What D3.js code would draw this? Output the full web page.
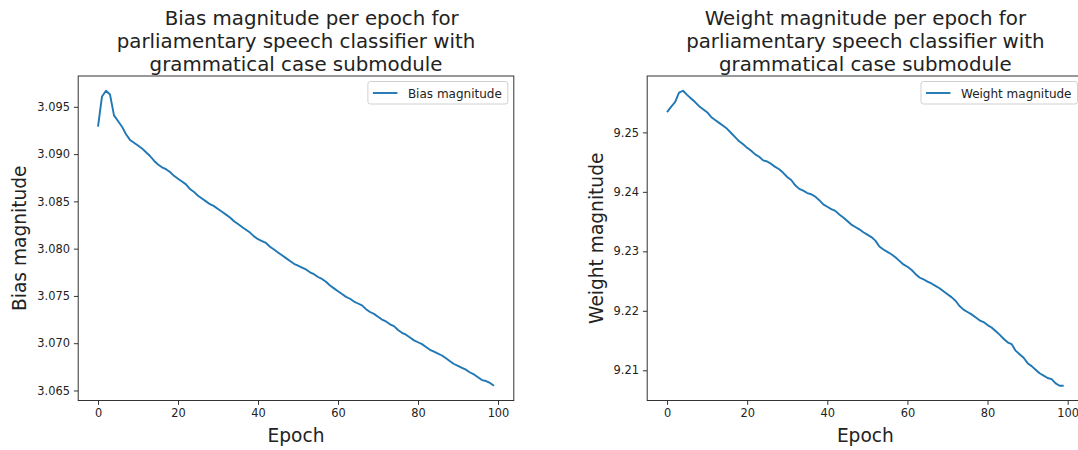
<!DOCTYPE html>
<html>
<head>
<meta charset="utf-8">
<script src="https://cdn.jsdelivr.net/npm/d3@7"></script>
<style>
  html, body { margin: 0; padding: 0; background: #fff; }
  svg { display: block; font-family: "DejaVu Sans", sans-serif; }
  .title tspan { white-space: pre; }
</style>
</head>
<body>
<svg id="chart" width="1078" height="450"></svg>
<script>
// Per-epoch magnitudes of the classifier's bias and weight vectors
const epochs = d3.range(0, 100);

const biasMagnitude = [
  3.0929, 3.0961, 3.0967, 3.0963, 3.0941, 3.0935, 3.0929, 3.0921, 3.0915, 3.0912,
  3.0909, 3.0906, 3.0902, 3.0898, 3.0893, 3.0889, 3.0886, 3.0884, 3.0881, 3.0877,
  3.0874, 3.0871, 3.0868, 3.0863, 3.0860, 3.0856, 3.0853, 3.0850, 3.0847, 3.0845,
  3.0842, 3.0839, 3.0836, 3.0833, 3.0829, 3.0826, 3.0823, 3.0820, 3.0817, 3.0813,
  3.0810, 3.0808, 3.0806, 3.0802, 3.0799, 3.0796, 3.0793, 3.0790, 3.0787, 3.0784,
  3.0782, 3.0780, 3.0778, 3.0775, 3.0773, 3.0770, 3.0768, 3.0765, 3.0761, 3.0758,
  3.0755, 3.0752, 3.0749, 3.0747, 3.0744, 3.0742, 3.0740, 3.0736, 3.0733, 3.0731,
  3.0728, 3.0725, 3.0723, 3.0720, 3.0718, 3.0714, 3.0711, 3.0709, 3.0706, 3.0703,
  3.0701, 3.0699, 3.0696, 3.0693, 3.0691, 3.0689, 3.0687, 3.0684, 3.0681, 3.0678,
  3.0676, 3.0674, 3.0672, 3.0669, 3.0667, 3.0664, 3.0661, 3.0660, 3.0658, 3.0655
];

const weightMagnitude = [
  9.2534, 9.2543, 9.2551, 9.2567, 9.2570, 9.2563, 9.2557, 9.2551, 9.2544, 9.2539,
  9.2534, 9.2526, 9.2521, 9.2516, 9.2511, 9.2506, 9.2499, 9.2492, 9.2485, 9.2480,
  9.2474, 9.2469, 9.2463, 9.2459, 9.2453, 9.2451, 9.2447, 9.2442, 9.2438, 9.2432,
  9.2425, 9.2420, 9.2411, 9.2405, 9.2402, 9.2398, 9.2396, 9.2392, 9.2386, 9.2379,
  9.2375, 9.2371, 9.2368, 9.2362, 9.2357, 9.2351, 9.2345, 9.2341, 9.2337, 9.2332,
  9.2328, 9.2324, 9.2318, 9.2308, 9.2303, 9.2299, 9.2295, 9.2290, 9.2284, 9.2278,
  9.2274, 9.2269, 9.2262, 9.2256, 9.2253, 9.2249, 9.2246, 9.2242, 9.2238, 9.2233,
  9.2228, 9.2223, 9.2217, 9.2208, 9.2202, 9.2198, 9.2194, 9.2189, 9.2184, 9.2181,
  9.2176, 9.2172, 9.2166, 9.2160, 9.2153, 9.2147, 9.2144, 9.2133, 9.2127, 9.2121,
  9.2112, 9.2107, 9.2101, 9.2095, 9.2091, 9.2087, 9.2085, 9.2078, 9.2074, 9.2074
];

const xTicks = [0, 20, 40, 60, 80, 100];
const biasTicks = [3.065, 3.070, 3.075, 3.080, 3.085, 3.090, 3.095];
const weightTicks = [9.21, 9.22, 9.23, 9.24, 9.25];

const panels = [
  {
    title: ["     Bias magnitude per epoch for", "parliamentary speech classifier with", "grammatical case submodule"],
    yLabel: "Bias magnitude",
    legend: "Bias magnitude",
    values: biasMagnitude,
    yTicks: biasTicks,
    yFormat: d3.format(".3f"),
    left: 78.2, right: 513.8, labelX: 26
  },
  {
    title: ["Weight magnitude per epoch for", "parliamentary speech classifier with", "grammatical case submodule"],
    yLabel: "Weight magnitude",
    legend: "Weight magnitude",
    values: weightMagnitude,
    yTicks: weightTicks,
    yFormat: d3.format(".2f"),
    left: 647.2, right: 1083.5, labelX: 603
  }
];

const plotTop = 76, plotBottom = 400.5;
const lineColor = "#1f77b4";
const ink = "#222";
const svg = d3.select("#chart");

// pad a data extent by 5% on each side
function padded(ext) {
  const m = (ext[1] - ext[0]) * 0.05;
  return [ext[0] - m, ext[1] + m];
}

panels.forEach(p => {
  const x = d3.scaleLinear().domain(padded(d3.extent(epochs))).range([p.left, p.right]);
  const y = d3.scaleLinear().domain(padded(d3.extent(p.values))).range([plotBottom, plotTop]);
  const g = svg.append("g");

  // data line
  g.append("path")
    .datum(epochs.map((e, i) => [e, p.values[i]]))
    .attr("fill", "none")
    .attr("stroke", lineColor)
    .attr("stroke-width", 1.9)
    .attr("stroke-linejoin", "round")
    .attr("d", d3.line().x(d => x(d[0])).y(d => y(d[1])));

  // frame
  g.append("rect")
    .attr("x", p.left).attr("y", plotTop)
    .attr("width", p.right - p.left).attr("height", plotBottom - plotTop)
    .attr("fill", "none").attr("stroke", "#333").attr("stroke-width", 1);

  // axes
  const xAxis = g.append("g")
    .attr("transform", `translate(0,${plotBottom})`)
    .call(d3.axisBottom(x).tickValues(xTicks).tickSize(4.3).tickPadding(4).tickFormat(d3.format("d")));
  const yAxis = g.append("g")
    .attr("transform", `translate(${p.left},0)`)
    .call(d3.axisLeft(y).tickValues(p.yTicks).tickSize(4.3).tickPadding(4).tickFormat(p.yFormat));
  [xAxis, yAxis].forEach(a => {
    a.select(".domain").remove();
    a.selectAll("line").attr("stroke", "#333");
    a.selectAll("text").attr("fill", ink).style("font-size", "11.4px").style("font-family", "DejaVu Sans");
  });

  // axis labels
  const cx = (p.left + p.right) / 2;
  g.append("text")
    .attr("x", cx).attr("y", 442)
    .attr("text-anchor", "middle")
    .attr("fill", ink).style("font-size", "18.6px")
    .text("Epoch");
  g.append("text")
    .attr("transform", `translate(${p.labelX},${(plotTop + plotBottom) / 2}) rotate(-90)`)
    .attr("text-anchor", "middle")
    .attr("fill", ink).style("font-size", "18.6px")
    .text(p.yLabel);

  // title
  g.append("text")
    .attr("class", "title")
    .attr("text-anchor", "middle")
    .attr("fill", ink).style("font-size", "19.8px")
    .selectAll("tspan")
    .data(p.title)
    .join("tspan")
    .attr("x", cx)
    .attr("y", (d, i) => 25 + i * 23)
    .text(d => d);

  // legend, upper right
  const lg = g.append("g");
  const label = lg.append("text")
    .attr("fill", ink).style("font-size", "12px")
    .attr("y", 97.5)
    .text(p.legend);
  const tw = label.node().getComputedTextLength();
  const boxRight = p.right - 6;
  const boxLeft = boxRight - (tw + 46);
  label.attr("x", boxLeft + 40);
  lg.insert("rect", "text")
    .attr("x", boxLeft).attr("y", 81.5)
    .attr("width", boxRight - boxLeft).attr("height", 22.5)
    .attr("rx", 2.5)
    .attr("fill", "rgba(255,255,255,0.8)")
    .attr("stroke", "#d0d0d0").attr("stroke-width", 1);
  lg.append("line")
    .attr("x1", boxLeft + 5).attr("x2", boxLeft + 29.5)
    .attr("y1", 93).attr("y2", 93)
    .attr("stroke", lineColor).attr("stroke-width", 1.9);
});
</script>
</body>
</html>
